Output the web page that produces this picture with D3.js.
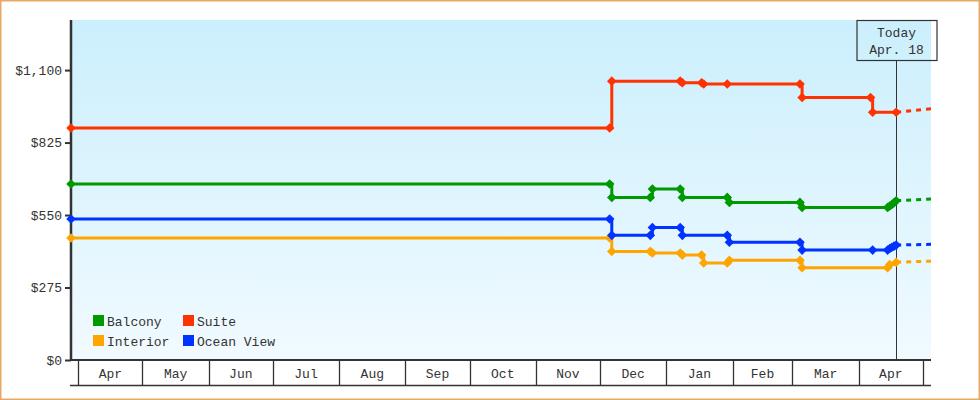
<!DOCTYPE html>
<html>
<head>
<meta charset="utf-8">
<script src="https://cdn.jsdelivr.net/npm/d3@7"></script>
<style>
  body { margin: 0; background: #fff; }
  text { font-family: "Liberation Mono", "DejaVu Sans Mono", monospace; font-size: 13px; fill: #333; }
</style>
</head>
<body>
<svg id="canvas" width="980" height="400"></svg>
<script>
// time range shown and today's date
const domainStart = "2018-03-28T14:00Z";
const domainEnd = "2019-05-04T19:00Z";
const today = "2019-04-18";
const todayLabel = ["Today", "Apr. 18"];

const yTicks = [0, 275, 550, 825, 1100];
const yMax = 1290;

const seriesNames = ["Balcony", "Suite", "Interior", "Ocean View"];
const seriesColors = ["#009900", "#ff3300", "#ffa500", "#0033ff"];

// observed prices [date, value]
const balcony = [
  ["2018-03-28", 668], ["2018-12-05", 668], ["2018-12-06", 617], ["2018-12-24", 617],
  ["2018-12-25", 649], ["2019-01-07", 649], ["2019-01-08", 617], ["2019-01-29", 617],
  ["2019-01-30", 598], ["2019-03-04", 598], ["2019-03-05", 579], ["2019-04-14", 579],
  ["2019-04-15", 584], ["2019-04-16", 590], ["2019-04-17", 597], ["2019-04-18", 604]
];
const suite = [
  ["2018-03-28", 880], ["2018-12-05", 880], ["2018-12-06", 1058], ["2019-01-07", 1058],
  ["2019-01-08", 1052], ["2019-01-17", 1052], ["2019-01-18", 1047], ["2019-01-29", 1047],
  ["2019-03-04", 1047], ["2019-03-05", 996], ["2019-04-06", 996], ["2019-04-07", 940],
  ["2019-04-18", 940]
];
const interior = [
  ["2018-03-28", 463], ["2018-12-05", 463], ["2018-12-06", 412], ["2018-12-24", 412],
  ["2018-12-25", 406], ["2019-01-07", 406], ["2019-01-08", 398], ["2019-01-17", 398],
  ["2019-01-18", 368], ["2019-01-29", 368], ["2019-01-30", 378], ["2019-03-04", 378],
  ["2019-03-05", 350], ["2019-04-14", 350], ["2019-04-15", 362], ["2019-04-18", 371]
];
const oceanView = [
  ["2018-03-28", 535], ["2018-12-05", 535], ["2018-12-06", 473], ["2018-12-24", 473],
  ["2018-12-25", 503], ["2019-01-07", 503], ["2019-01-08", 473], ["2019-01-29", 473],
  ["2019-01-30", 447], ["2019-03-04", 447], ["2019-03-05", 417], ["2019-04-07", 417],
  ["2019-04-14", 417], ["2019-04-15", 423], ["2019-04-16", 428], ["2019-04-17", 432],
  ["2019-04-18", 436]
];
// projected value at the right edge
const forecast = [611, 953, 375, 439];

const allSeries = [balcony, suite, interior, oceanView];

const margin = {left: 71, right: 49, top: 20, bottom: 40};
const W = 980, H = 400;

const svg = d3.select('#canvas');

// outer frame
svg.append('rect')
    .attr('x', 0.75).attr('y', 0.75)
    .attr('width', W - 1.5).attr('height', H - 1.5)
    .attr('fill', '#fff')
    .attr('stroke', '#e8a865')
    .attr('stroke-width', 1.5);

const parseDay = d3.utcParse("%Y-%m-%d");
// observations are taken at noon
const atNoon = s => d3.utcHour.offset(parseDay(s), 12);

const x = d3.scaleUtc()
    .domain([new Date(domainStart), new Date(domainEnd)])
    .range([margin.left, W - margin.right]);
const y = d3.scaleLinear()
    .domain([0, yMax])
    .range([H - margin.bottom, margin.top]);

const todayDate = atNoon(today);

// background gradient
const defs = svg.append('defs');
const grad = defs.append('linearGradient')
    .attr('id', 'bg').attr('x1', 0).attr('y1', 0).attr('x2', 0).attr('y2', 1);
grad.append('stop').attr('offset', '0%').attr('stop-color', '#cbeffd');
grad.append('stop').attr('offset', '100%').attr('stop-color', '#f1faff');

defs.append('clipPath').attr('id', 'plotClip')
    .append('rect')
    .attr('x', margin.left).attr('y', margin.top)
    .attr('width', W - margin.right - margin.left)
    .attr('height', H - margin.bottom - margin.top);

svg.append('rect')
    .attr('x', margin.left).attr('y', margin.top)
    .attr('width', W - margin.right - margin.left)
    .attr('height', H - margin.bottom - margin.top)
    .attr('fill', 'url(#bg)');

// month band below the plot
const bandTop = H - margin.bottom;
const bandBottom = bandTop + 25;
const months = d3.utcMonth.range(d3.utcMonth.ceil(x.domain()[0]), x.domain()[1]);

svg.append('line')
    .attr('x1', margin.left - 1).attr('x2', W - margin.right)
    .attr('y1', bandBottom + 0.5).attr('y2', bandBottom + 0.5)
    .attr('stroke', '#333').attr('stroke-width', 1.5);

svg.selectAll('line.sep')
    .data(months)
    .join('line')
    .attr('class', 'sep')
    .attr('x1', d => Math.round(x(d)) + 0.5)
    .attr('x2', d => Math.round(x(d)) + 0.5)
    .attr('y1', bandTop).attr('y2', bandBottom)
    .attr('stroke', '#333').attr('stroke-width', 1.3);

svg.selectAll('text.month')
    .data(months.slice(0, -1))
    .join('text')
    .attr('class', 'month')
    .attr('x', d => (x(d) + x(d3.utcMonth.offset(d, 1))) / 2)
    .attr('y', bandTop + 18)
    .attr('text-anchor', 'middle')
    .text(d => d3.utcFormat("%b")(d));

// y axis
const yAxis = d3.axisLeft(y)
    .tickValues(yTicks)
    .tickSize(6)
    .tickPadding(3)
    .tickFormat(d3.format("$,.0f"));
const gy = svg.append('g')
    .attr('transform', `translate(${margin.left},0)`)
    .call(yAxis);
gy.select('.domain').remove();
gy.selectAll('.tick line').attr('stroke', '#333').attr('stroke-width', 2);
gy.selectAll('.tick text')
    .attr('fill', '#333')
    .style('font-family', '"Liberation Mono", "DejaVu Sans Mono", monospace')
    .style('font-size', '13px');

svg.append('line')
    .attr('x1', margin.left).attr('x2', margin.left)
    .attr('y1', margin.top).attr('y2', bandTop + 1)
    .attr('stroke', '#333').attr('stroke-width', 2.5);
svg.append('line')
    .attr('x1', margin.left - 1).attr('x2', W - margin.right)
    .attr('y1', bandTop).attr('y2', bandTop)
    .attr('stroke', '#333').attr('stroke-width', 2);

// today marker line and label box
const tx = Math.round(x(todayDate)) + 0.5;
svg.append('line')
    .attr('x1', tx).attr('x2', tx)
    .attr('y1', margin.top + 40).attr('y2', bandTop)
    .attr('stroke', '#333').attr('stroke-width', 1);
svg.append('rect')
    .attr('x', tx - 39.5).attr('y', margin.top + 0.5)
    .attr('width', 80).attr('height', 40)
    .attr('fill', 'none')
    .attr('stroke', '#333').attr('stroke-width', 1.2);
svg.selectAll('text.today')
    .data(todayLabel)
    .join('text')
    .attr('class', 'today')
    .attr('x', tx)
    .attr('y', (d, i) => margin.top + 17 + i * 17)
    .attr('text-anchor', 'middle')
    .text(d => d);

// price lines
const line = d3.line()
    .curve(d3.curveStepAfter)
    .x(d => x(d.date))
    .y(d => y(d.value));

const plot = svg.append('g').attr('clip-path', 'url(#plotClip)');
const diamond = d3.symbol().type(d3.symbolSquare).size(46);

allSeries.forEach((series, i) => {
    let pts = series.map(([d, v], j) => ({
        date: j == 0 ? new Date(domainStart) : atNoon(d),
        value: v
    }));
    let last = pts[pts.length - 1];

    //dashed projection to the right edge
    plot.append('line')
        .attr('x1', x(last.date)).attr('y1', y(last.value))
        .attr('x2', x.range()[1]).attr('y2', y(forecast[i]))
        .attr('stroke', seriesColors[i])
        .attr('stroke-width', 3)
        .attr('stroke-dasharray', '5,5');

    plot.append('path')
        .datum(pts)
        .attr('d', line)
        .attr('fill', 'none')
        .attr('stroke', seriesColors[i])
        .attr('stroke-width', 3);

    svg.append('g').selectAll('path')
        .data(pts)
        .join('path')
        .attr('d', diamond)
        .attr('transform', d => `translate(${x(d.date)},${y(d.value)}) rotate(45)`)
        .attr('fill', seriesColors[i]);
});

// legend, two columns
const legend = svg.append('g').attr('transform', 'translate(93,315)');
const items = legend.selectAll('g')
    .data(seriesNames)
    .join('g')
    .attr('transform', (d, i) => `translate(${(i % 2) * 90},${Math.floor(i / 2) * 20})`);
items.append('rect')
    .attr('width', 11).attr('height', 11)
    .attr('fill', (d, i) => seriesColors[i]);
items.append('text')
    .attr('x', 14).attr('y', 10.5)
    .text(d => d);
</script>
</body>
</html>
